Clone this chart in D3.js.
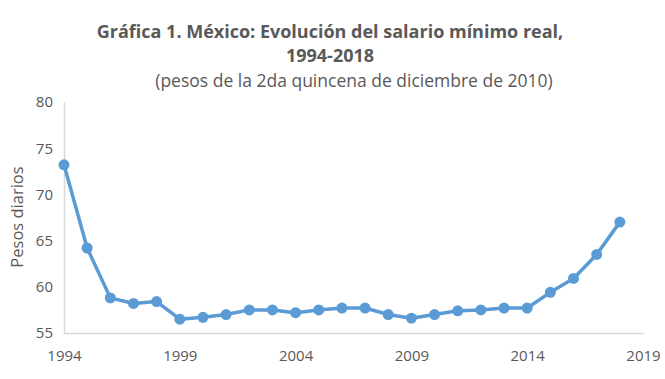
<!DOCTYPE html>
<html>
<head>
<meta charset="utf-8">
<script src="https://cdn.jsdelivr.net/npm/d3@7"></script>
<style>
  body { margin: 0; background: #fff; }
  text { font-family: "Open Sans", "Noto Sans", sans-serif; fill: #595959; }
</style>
</head>
<body>
<script>
// data
var years = [1994, 1995, 1996, 1997, 1998, 1999, 2000, 2001, 2002, 2003, 2004, 2005, 2006,
             2007, 2008, 2009, 2010, 2011, 2012, 2013, 2014, 2015, 2016, 2017, 2018];
var salario = [73.2, 64.2, 58.8, 58.2, 58.4, 56.5, 56.7, 57.0, 57.5, 57.5, 57.2, 57.5, 57.7,
               57.7, 57.0, 56.6, 57.0, 57.4, 57.5, 57.7, 57.7, 59.4, 60.9, 63.5, 67.0];
var xTicks = [1994, 1999, 2004, 2009, 2014, 2019];
var yTicks = [55, 60, 65, 70, 75, 80];

var width = 665, height = 379;
var margin = {top: 102, right: 22, bottom: 46, left: 64};

var svg = d3.select("body").append("svg")
    .attr("width", width)
    .attr("height", height);

var x = d3.scaleLinear().domain([1994, 2019]).range([margin.left, width - margin.right]);
var y = d3.scaleLinear().domain([55, 80]).range([height - margin.bottom, margin.top]);

// titles
svg.append("text")
    .attr("x", 330).attr("y", 38)
    .attr("text-anchor", "middle")
    .style("font-size", "18px").style("font-weight", "bold")
    .text("Gráfica 1. México: Evolución del salario mínimo real,");
svg.append("text")
    .attr("x", 330).attr("y", 62)
    .attr("text-anchor", "middle")
    .style("font-size", "18px").style("font-weight", "bold")
    .text("1994-2018");
svg.append("text")
    .attr("x", 354).attr("y", 87)
    .attr("text-anchor", "middle")
    .style("font-size", "17.5px")
    .text("(pesos de la 2da quincena de diciembre de 2010)");

// axes
var xAxis = svg.append("g")
    .attr("transform", "translate(0," + y(55) + ")")
    .call(d3.axisBottom(x).tickValues(xTicks).tickFormat(d3.format("d")).tickSize(0).tickPadding(17));
xAxis.select(".domain").attr("stroke", "#d9d9d9").attr("stroke-width", 1.5);
xAxis.selectAll("text").style("font-size", "15px");

var yAxis = svg.append("g")
    .attr("transform", "translate(" + x(1994) + ",0)")
    .call(d3.axisLeft(y).tickValues(yTicks).tickSize(0).tickPadding(11));
yAxis.select(".domain").attr("stroke", "#d9d9d9").attr("stroke-width", 1.5);
yAxis.selectAll("text").style("font-size", "15px");

svg.append("text")
    .attr("transform", "translate(23," + 217 + ") rotate(-90)")
    .attr("text-anchor", "middle")
    .style("font-size", "16.5px")
    .text("Pesos diarios");

// line + markers
var data = years.map(function(d, i) { return {year: d, value: salario[i]}; });

var line = d3.line()
    .x(function(d) { return x(d.year); })
    .y(function(d) { return y(d.value); });

svg.append("path")
    .datum(data)
    .attr("fill", "none")
    .attr("stroke", "#5b9bd5")
    .attr("stroke-width", 3.5)
    .attr("stroke-linejoin", "round")
    .attr("d", line);

svg.selectAll(".dot")
    .data(data)
    .enter().append("circle")
    .attr("class", "dot")
    .attr("cx", function(d) { return x(d.year); })
    .attr("cy", function(d) { return y(d.value); })
    .attr("r", 5.5)
    .attr("fill", "#5b9bd5");
</script>
</body>
</html>
